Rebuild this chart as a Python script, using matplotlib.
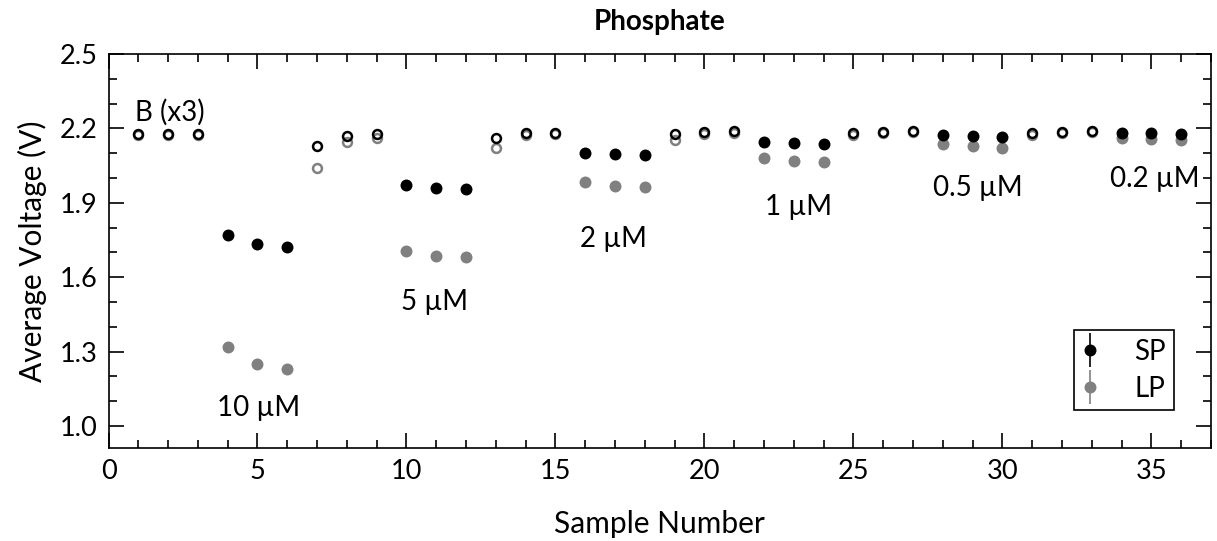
import matplotlib
matplotlib.use("Agg")
import matplotlib.pyplot as plt
from matplotlib.lines import Line2D
import numpy as np

plt.rcParams['font.family'] = ['Lato', 'DejaVu Sans']

# ---- data ----
samples = list(range(1, 37))
sp_values = [2.176, 2.176, 2.176, 1.769, 1.732, 1.721, 2.127, 2.170, 2.176,
             1.970, 1.961, 1.957, 2.162, 2.183, 2.183, 2.102, 2.096, 2.092,
             2.179, 2.187, 2.190, 2.147, 2.143, 2.139, 2.181, 2.186, 2.190,
             2.172, 2.170, 2.167, 2.181, 2.186, 2.190, 2.183, 2.181, 2.179]
lp_values = [2.174, 2.174, 2.174, 1.320, 1.250, 1.230, 2.039, 2.145, 2.163,
             1.707, 1.687, 1.680, 2.119, 2.172, 2.178, 1.984, 1.968, 1.964,
             2.153, 2.179, 2.182, 2.081, 2.069, 2.065, 2.172, 2.180, 2.184,
             2.136, 2.129, 2.119, 2.175, 2.180, 2.184, 2.163, 2.156, 2.152]
# blanks / washes (open markers)
is_blank = [1, 1, 1, 0, 0, 0, 1, 1, 1, 0, 0, 0, 1, 1, 1, 0, 0, 0,
            1, 1, 1, 0, 0, 0, 1, 1, 1, 0, 0, 0, 1, 1, 1, 0, 0, 0]
annotations = ["B (x3)", "10 \u00b5M", "5 \u00b5M", "2 \u00b5M", "1 \u00b5M", "0.5 \u00b5M", "0.2 \u00b5M"]
annot_x = [0.89, 5.03, 10.94, 16.95, 23.16, 29.18, 35.1]
annot_y = [2.265, 1.073, 1.501, 1.752, 1.884, 1.961, 1.995]
annot_ha = ["left", "center", "center", "center", "center", "center", "center"]
series_names = ["SP", "LP"]

BLACK = "#000000"
GRAY = "#808080"

fig = plt.figure(figsize=(12.17, 5.41), dpi=100)
ax = fig.add_axes([108.5 / 1217, 1 - 448 / 541, (1211 - 108.5) / 1217, (448 - 54) / 541])

x = np.array(samples)
sp = np.array(sp_values)
lp = np.array(lp_values)
blank = np.array(is_blank, dtype=bool)

# LP below, SP on top
for vals, col, z in [(lp, GRAY, 2), (sp, BLACK, 3)]:
    ax.plot(x[~blank], vals[~blank], linestyle='none', marker='o', ms=8.6,
            mew=0, color=col, zorder=z)
    ax.plot(x[blank], vals[blank], linestyle='none', marker='o', ms=6.4,
            mew=1.8, mfc='none', mec=col, zorder=z)

for t, tx, ty, ha in zip(annotations, annot_x, annot_y, annot_ha):
    ax.text(tx, ty, t, fontsize=20, ha=ha, va='center', color='black')

ax.set_xlim(0, 37)
ax.set_ylim(0.911, 2.5)
ax.set_xticks(np.arange(0, 36, 5))
ax.set_xticks(np.arange(0, 38, 1), minor=True)
ax.set_yticks([1.0, 1.3, 1.6, 1.9, 2.2, 2.5])
ax.set_yticks(np.arange(1.0, 2.51, 0.1), minor=True)
ax.tick_params(which='both', direction='in', top=True, right=True,
               labelsize=19.5, pad=8, width=1.2)
ax.tick_params(which='major', length=11)
ax.tick_params(which='minor', length=6)
for s in ax.spines.values():
    s.set_linewidth(1.2)

ax.set_xlabel("Sample Number", fontsize=21.5, labelpad=19)
ax.set_ylabel("Average Voltage (V)", fontsize=21.5, labelpad=9)
fig.text(660 / 1217, 1 - 22 / 541, "Phosphate", fontsize=20, fontweight='bold',
         ha='center', va='center')

handles = []
for col in [BLACK, GRAY]:
    bar = Line2D([], [], linestyle='none', marker='|', ms=24, mew=1.2, color=col)
    dot = Line2D([], [], linestyle='none', marker='o', ms=8.6, mew=0, color=col)
    handles.append((bar, dot))
leg = ax.legend(handles, series_names, loc='lower right',
                bbox_to_anchor=((1174 - 108.5) / 1102.5, (448 - 410) / 394),
                borderaxespad=0, fontsize=20, frameon=True, fancybox=False,
                framealpha=1, edgecolor='black', handlelength=0.55,
                handletextpad=1.3, labelspacing=0.4, borderpad=0.3)
leg.get_frame().set_linewidth(1.2)

fig.savefig("out.png", dpi=100)
